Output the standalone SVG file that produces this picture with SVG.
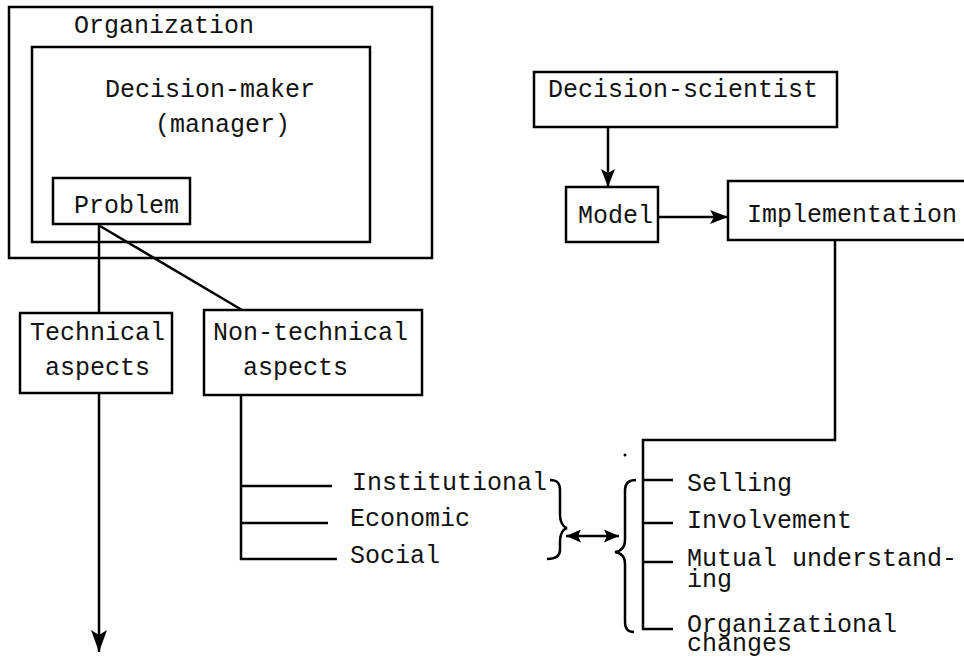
<svg xmlns="http://www.w3.org/2000/svg" width="964" height="660" viewBox="0 0 964 660">
<style>
.box{fill:none;stroke:#000;stroke-width:2.5}
.ln{fill:none;stroke:#000;stroke-width:2.5}
.t{font-family:"Liberation Mono","Courier New",monospace;font-size:25px;fill:#111}
</style>
<defs>
<marker id="ah" viewBox="0 0 22 16" refX="22" refY="8" markerWidth="22" markerHeight="16" markerUnits="userSpaceOnUse" orient="auto-start-reverse">
<path d="M0,0 L22,8 L0,16 L5,8 z" fill="#000"/>
</marker>
<marker id="ahm" viewBox="0 0 18 14" refX="18" refY="7" markerWidth="18" markerHeight="14" markerUnits="userSpaceOnUse" orient="auto-start-reverse">
<path d="M0,0 L18,7 L0,14 L4,7 z" fill="#000"/>
</marker>
<marker id="ahs" viewBox="0 0 15 13" refX="15" refY="6.5" markerWidth="15" markerHeight="13" markerUnits="userSpaceOnUse" orient="auto-start-reverse">
<path d="M0,0 L15,6.5 L0,13 L3,6.5 z" fill="#000"/>
</marker>
</defs>
<rect width="964" height="660" fill="#fff"/>
<g id="organization">
<rect class="box" x="9" y="7" width="423" height="251"/>
<text class="t" x="74" y="33">Organization</text>
</g>
<g id="decision-maker">
<rect class="box" x="32" y="47" width="338" height="195"/>
<text class="t" x="105" y="97">Decision-maker</text>
<text class="t" x="155" y="132">(manager)</text>
</g>
<g id="problem">
<rect class="box" x="53" y="178" width="137" height="46"/>
<text class="t" x="74" y="213">Problem</text>
</g>
<g id="technical">
<rect class="box" x="20" y="313" width="152" height="80"/>
<text class="t" x="30" y="340">Technical</text>
<text class="t" x="45" y="375">aspects</text>
</g>
<g id="non-technical">
<rect class="box" x="204" y="310" width="218" height="85"/>
<text class="t" x="213" y="340">Non-technical</text>
<text class="t" x="243" y="375">aspects</text>
</g>
<g id="decision-scientist">
<rect class="box" x="534" y="72" width="303" height="55"/>
<text class="t" x="548" y="97">Decision-scientist</text>
</g>
<g id="model">
<rect class="box" x="566" y="187" width="92" height="55"/>
<text class="t" x="578" y="223">Model</text>
</g>
<g id="implementation">
<path class="box" d="M970,181 L728,181 L728,240 L970,240"/>
<text class="t" x="747" y="222">Implementation</text>
</g>
<g id="non-technical-items">
<text class="t" x="352" y="490">Institutional</text>
<text class="t" x="350" y="526">Economic</text>
<text class="t" x="350" y="563">Social</text>
</g>
<g id="implementation-items">
<text class="t" x="687" y="491">Selling</text>
<text class="t" x="687" y="528">Involvement</text>
<text class="t" x="687" y="566">Mutual understand-<tspan x="687" dy="21">ing</tspan></text>
<text class="t" x="687" y="632">Organizational<tspan x="687" dy="19">changes</tspan></text>
</g>
<g id="connectors">
<line class="ln" x1="99" y1="224" x2="99" y2="313"/>
<line class="ln" x1="100" y1="226" x2="242" y2="310"/>
<line class="ln" x1="99" y1="393" x2="99" y2="652" marker-end="url(#ah)"/>
<path class="ln" d="M241,395 L241,559 L337,559 M241,486 L332,486 M241,523 L328,523"/>
<line class="ln" x1="608" y1="127" x2="608" y2="187" marker-end="url(#ahm)"/>
<line class="ln" x1="658" y1="217" x2="728" y2="217" marker-end="url(#ahm)"/>
<path class="ln" d="M835,240 L835,440 L643,440 L643,629 L673,629 M643,480 L673,480 M643,523 L673,523 M643,562 L673,562"/>
<path class="ln" d="M550,480 C558,480 560,484 560,490 L560,515 C560,522 563,527 567,528 C563,529 560,534 560,541 L560,550 C560,556 556,559 547,559"/>
<path class="ln" d="M636,480 C628,480 625,484 625,490 L625,540 C625,547 621,551 615,552 C621,553 625,557 625,564 L625,622 C625,628 628,632 634,632"/>
<line class="ln" x1="566" y1="536" x2="619" y2="536" marker-start="url(#ahs)" marker-end="url(#ahs)"/>
<circle cx="625" cy="455" r="1.5" fill="#000"/>
</g>
</svg>
